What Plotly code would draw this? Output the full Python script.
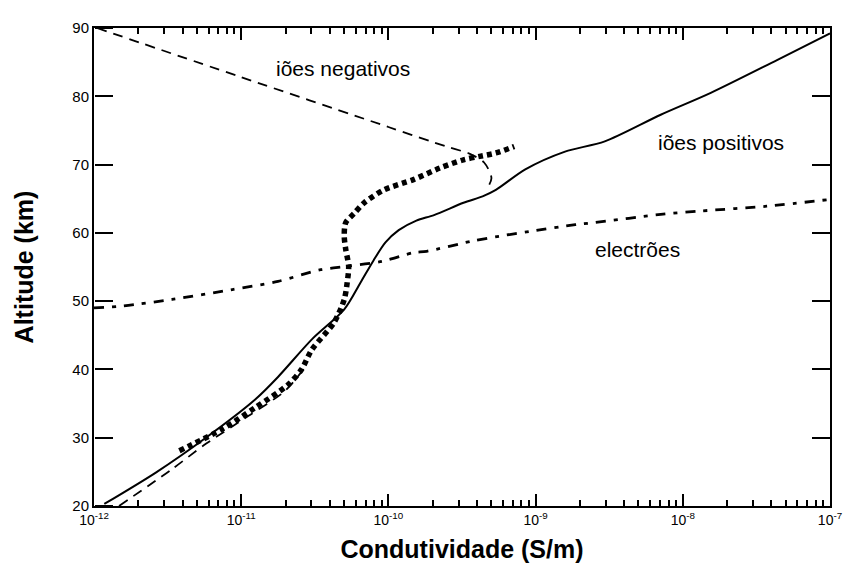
import plotly.graph_objects as go

# ---- data (log10 of conductivity in S/m, altitude in km) ----
pos_logx = [-11.93, -11.58, -11.24, -10.905, -10.75, -10.52, -10.30, -10.19,
            -10.10, -10.02, -9.93, -9.81, -9.69, -9.49, -9.36, -9.27, -9.07, -8.80,
            -8.53, -8.15, -7.81, -7.36, -7.0]
pos_alt = [20.3, 24.9, 30.0, 35.6, 38.9, 44.4, 48.8, 52.7,
           56.0, 58.6, 60.4, 61.8, 62.6, 64.4, 65.35, 66.3, 69.3, 71.9,
           73.4, 77.3, 80.5, 85.3, 89.2]

neg_low_logx = [-11.83, -11.47, -11.24, -10.95, -10.70, -10.55]
neg_low_alt = [20.0, 25.4, 29.1, 33.2, 36.9, 40.8]
neg_up_logx = [-11.98, -11.0, -10.0, -9.60, -9.45, -9.35, -9.30, -9.335]
neg_up_alt = [90.0, 82.8, 75.5, 72.6, 71.6, 70.3, 68.0, 66.3]

dots_logx = [-11.42, -11.13, -10.905, -10.68, -10.59, -10.52, -10.37, -10.30, -10.28,
             -10.27, -10.29, -10.30, -10.29, -10.23, -10.165, -10.03, -9.83, -9.65,
             -9.49, -9.38, -9.27, -9.145]
dots_alt = [28.1, 31.25, 34.4, 37.8, 40.0, 42.9, 46.85, 50.25, 52.7,
            55.1, 57.6, 59.5, 61.5, 62.9, 64.4, 66.3, 67.8, 69.5,
            70.7, 71.2, 71.7, 72.65]

ele_logx = [-12.0, -11.80, -11.47, -11.06, -10.75, -10.46, -10.28, -10.04, -9.83,
            -9.74, -9.43, -9.25, -9.04, -8.73, -8.60, -8.15, -7.88, -7.43, -7.0]
ele_alt = [49.0, 49.3, 50.25, 51.7, 52.9, 54.6, 55.1, 55.85, 57.1,
           57.3, 58.8, 59.5, 60.2, 61.2, 61.5, 62.7, 63.2, 63.9, 64.9]

x_tickvals = [1e-12, 1e-11, 1e-10, 1e-9, 1e-8, 1e-7]
x_ticktext = ["10<sup>-12</sup>", "10<sup>-11</sup>", "10<sup>-10</sup>",
              "10<sup>-9</sup>", "10<sup>-8</sup>", "10<sup>-7</sup>"]
y_tickvals = [20, 30, 40, 50, 60, 70, 80, 90]

labels = ["iões negativos", "iões positivos", "electrões"]

x_minor = [m * 10.0 ** e for e in range(-12, -7) for m in range(2, 10)]


def pw(v):
    return [None if a is None else 10 ** a for a in v]


FONT = "Liberation Sans, Arial, Helvetica, sans-serif"

fig = go.Figure()
fig.add_trace(go.Scatter(x=pw(pos_logx), y=pos_alt, mode="lines",
                         line=dict(color="black", width=2, shape="spline", smoothing=0.8)))
fig.add_trace(go.Scatter(x=pw(neg_low_logx + [None] + neg_up_logx),
                         y=neg_low_alt + [None] + neg_up_alt, mode="lines",
                         connectgaps=False,
                         line=dict(color="black", width=1.8, dash="10px,7px",
                                   shape="spline", smoothing=0.8)))
fig.add_trace(go.Scatter(x=pw(dots_logx), y=dots_alt, mode="lines",
                         line=dict(color="black", width=5.5, dash="5px,4px",
                                   shape="spline", smoothing=0.8)))
fig.add_trace(go.Scatter(x=pw(ele_logx), y=ele_alt, mode="lines",
                         line=dict(color="black", width=2.8, dash="10px,8px,4px,8px",
                                   shape="spline", smoothing=0.8)))
# empty traces so that the tick-only altitude axes (y2 left edge, y3 right edge) are drawn
fig.add_trace(go.Scatter(x=[], y=[], yaxis="y2", mode="lines", hoverinfo="skip"))
fig.add_trace(go.Scatter(x=[], y=[], yaxis="y3", mode="lines", hoverinfo="skip"))

fig.add_annotation(x=-10.31, y=84.0, text=labels[0], showarrow=False,
                   font=dict(size=21, color="black", family=FONT))
fig.add_annotation(x=-7.74, y=73.2, text=labels[1], showarrow=False,
                   font=dict(size=21, color="black", family=FONT))
fig.add_annotation(x=-8.31, y=57.6, text=labels[2], showarrow=False,
                   font=dict(size=21, color="black", family=FONT))

tick_axis = dict(overlaying="y", matches="y", range=[20, 90],
                 tickmode="array", tickvals=y_tickvals,
                 ticklen=18, tickwidth=2, tickcolor="black",
                 showticklabels=False, showline=False, showgrid=False, zeroline=False)

fig.update_layout(
    width=854, height=571,
    margin=dict(l=94, r=17, t=28, b=64),
    paper_bgcolor="white", plot_bgcolor="white",
    showlegend=False,
    font=dict(family=FONT, color="black"),
    yaxis2=dict(tick_axis, side="right", anchor="free", position=0, ticks="outside"),
    yaxis3=dict(tick_axis, side="right", anchor="x", ticks="inside"),
)
fig.update_xaxes(
    type="log", range=[-12, -7],
    tickmode="array", tickvals=x_tickvals, ticktext=x_ticktext,
    ticks="inside", ticklen=12, tickwidth=2, tickcolor="black",
    minor=dict(ticks="inside", ticklen=6, tickwidth=1.5, tickcolor="black",
               tickmode="array", tickvals=x_minor, showgrid=False),
    showline=True, linecolor="black", linewidth=2, mirror="ticks",
    showgrid=False, zeroline=False,
    tickfont=dict(size=14, family=FONT),
    title=dict(text="<b>Condutividade (S/m)</b>", font=dict(size=25, family=FONT), standoff=14),
)
fig.layout.yaxis.update(
    tickmode="array", range=[20, 90], tickvals=y_tickvals,
    ticks="", showline=True, linecolor="black", linewidth=2, mirror=True,
    showgrid=False, zeroline=False,
    tickfont=dict(size=15, family=FONT),
    title=dict(text="<b>Altitude (km)</b>", font=dict(size=25, family=FONT), standoff=32),
)

fig.write_html("out.html")
